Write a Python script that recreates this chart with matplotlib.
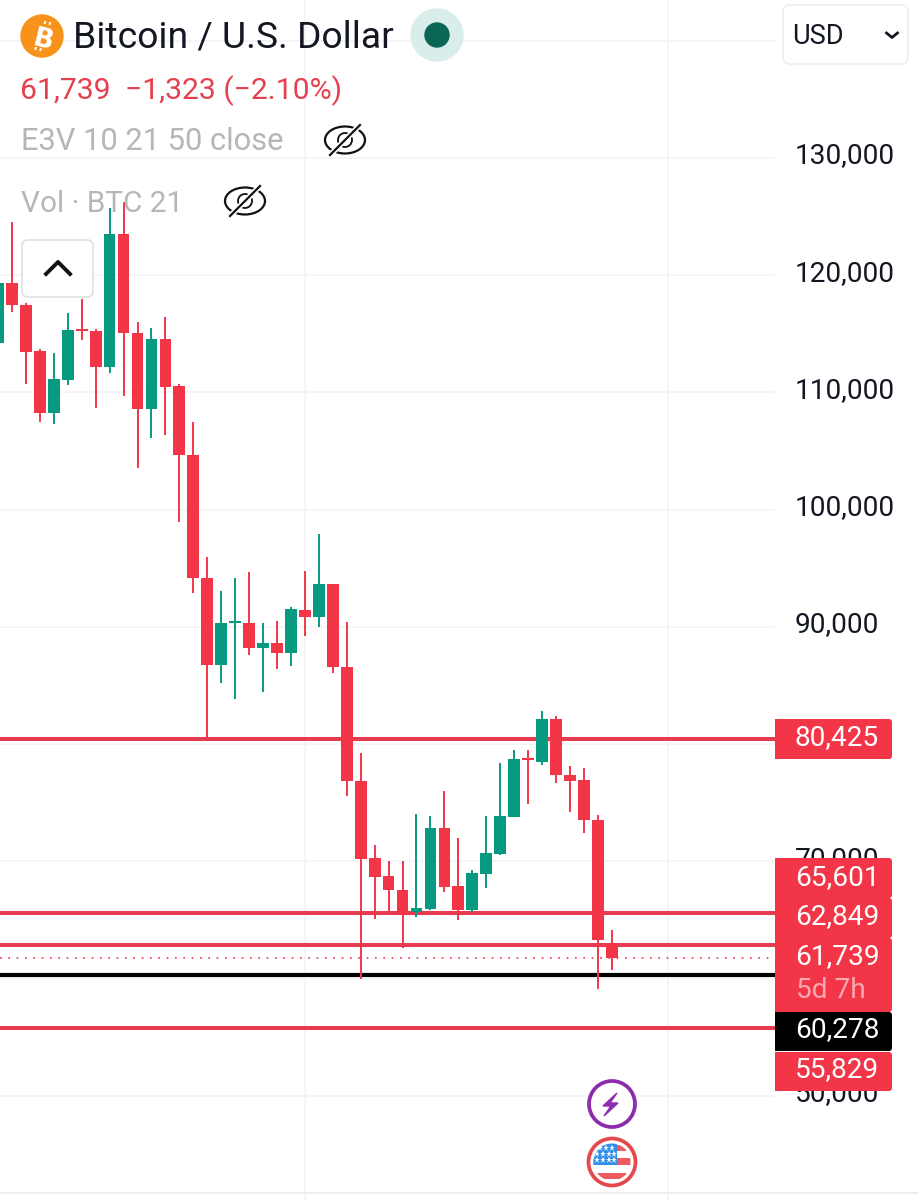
import matplotlib
matplotlib.use("Agg")
import matplotlib.pyplot as plt
from matplotlib.patches import Circle, Ellipse, FancyBboxPatch, Polygon, Rectangle
from matplotlib.transforms import ScaledTranslation

plt.rcParams["font.family"] = ["Roboto", "DejaVu Sans"]

# daily candles
opens = [114220, 119338, 117460, 113537, 108248, 111063, 115413, 115243, 112172, 123517,
         115072, 108589, 114560, 110551, 104665, 94174, 86752, 90335, 90335, 88203,
         88629, 87776, 91444, 90847, 93662, 86582, 76858, 70290, 68754, 67560,
         65683, 65939, 72849, 67901, 65854, 68925, 70631, 73787, 78734, 78478,
         82146, 77369, 76943, 73531, 63062]
highs = [119338, 124540, 117631, 113707, 113366, 116778, 117972, 115413, 125735, 126246,
         116010, 115499, 116437, 110722, 107480, 95965, 93065, 94174, 94685, 90335,
         90506, 91700, 94771, 97927, 93662, 90420, 79246, 71398, 70034, 70034,
         74043, 73872, 76005, 71996, 69266, 73872, 78393, 79502, 79502, 82829,
         82402, 78137, 77967, 73957, 64148]
lows = [114050, 116863, 110722, 107480, 107310, 110636, 114475, 108675, 111660, 109698,
        103557, 106116, 106371, 98950, 92894, 80611, 85217, 83852, 87605, 84449,
        86411, 86667, 89226, 89994, 86070, 75578, 59968, 65086, 65683, 62613,
        65257, 65854, 67389, 65001, 65683, 67731, 70545, 73787, 74896, 78222,
        76687, 74213, 72422, 59115, 60736]
closes = [119338, 117460, 113451, 108248, 111148, 115328, 115243, 112172, 123517, 115072,
          108589, 114560, 110466, 104665, 94174, 86752, 90335, 90420, 88203, 88629,
          87776, 91529, 90847, 93662, 86582, 76858, 70204, 68669, 67560, 65427,
          66025, 72849, 67816, 65854, 69010, 70716, 73872, 78734, 78649, 82146,
          77369, 76858, 73531, 63295, 61739]

yticks = [140000, 130000, 120000, 110000, 100000, 90000, 80000, 70000, 60000, 50000]
ytick_labels = ["", "130,000", "120,000", "110,000", "100,000", "90,000", "", "70,000", "", "50,000"]
red_levels = [80425, 65601, 62849, 55829]
black_level = 60278
last_close = 61739
vgrid_days = [22, 48]

RED = "#F23648"
GREEN = "#089A80"
LINE_RED = "#E63B50"
GRID = "#F3F4F6"

fig = plt.figure(figsize=(9.18, 12), dpi=100)
ax = fig.add_axes([0, 0, 775 / 918, 1])
ax.set_xlim(0.143, 55.7)
ax.set_ylim(41117, 143477)

ax.set_yticks(yticks)
ax.set_yticklabels(ytick_labels, fontsize=20.2, color="#131722")
ax.yaxis.tick_right()
ax.tick_params(axis="y", length=0, pad=14.4)
# labels sit a little above their grid lines
for lab in ax.get_yticklabels():
    lab.set_transform(lab.get_transform() + ScaledTranslation(0, 5 / 100, fig.dpi_scale_trans))
ax.set_xticks(vgrid_days)
ax.tick_params(axis="x", length=0, labelbottom=False)
ax.grid(True, color=GRID, linewidth=1.2)
ax.set_axisbelow(True)
for s in ax.spines.values():
    s.set_visible(False)

# price lines
for lv in red_levels:
    ax.axhline(lv, xmin=0, xmax=0.998, color=LINE_RED, lw=2.9, zorder=2)
ax.axhline(black_level, xmin=0, xmax=0.998, color="black", lw=3, zorder=2)
ax.axhline(last_close, xmin=0, xmax=0.998, color=RED, lw=1.2, ls=(0, (1, 4)), zorder=2)

# candles
days = list(range(len(opens)))
for i in days:
    c = GREEN if closes[i] >= opens[i] else RED
    ax.vlines(i, lows[i], highs[i], color=c, lw=1.4, zorder=3)
    h = max(abs(closes[i] - opens[i]), 130)
    ax.bar(i, h, bottom=min(opens[i], closes[i]), width=0.84, color=c, zorder=4)

# overlay in pixel coordinates for the app's interface
ui = fig.add_axes([0, 0, 1, 1], zorder=5)
ui.set_xlim(0, 918)
ui.set_ylim(1200, 0)
ui.axis("off")
ui.patch.set_alpha(0)

# header
ui.add_patch(Circle((42, 36), 21, color="#F7931A"))
ui.text(43, 36, "B", color="white", fontsize=19, fontweight="bold", rotation=-14,
        ha="center", va="center_baseline", family="DejaVu Sans")
for tx, ty in [(44.5, 24), (49.5, 25), (36, 47), (41, 48)]:
    dx = 0.8 if ty < 36 else -0.8
    dy = -3 if ty < 36 else 3
    ui.plot([tx, tx + dx], [ty, ty + dy], color="white", lw=1.4, solid_capstyle="butt")
ui.text(73, 33.5, "Bitcoin / U.S. Dollar", fontsize=26.8, color="#131722", va="center_baseline")
ui.add_patch(Circle((437, 35), 26, color="#D9EEEA"))
ui.add_patch(Circle((437, 35), 12, color="#0B6655"))
ui.text(20, 87.5, "61,739", fontsize=21.7, color="#E5404F", va="center_baseline")
ui.text(125, 87.5, "\u22121,323 (\u22122.10%)", fontsize=21.7, color="#E5404F", va="center_baseline")
ui.text(21, 139, "E3V 10 21 50 close", fontsize=22.2, color="#B6B6B6", va="center_baseline")
ui.text(21, 200.5, "Vol \u00b7 BTC 21", fontsize=21.4, color="#B6B6B6", va="center_baseline")

# hidden-eye icons
for ex, ey in [(345, 140), (245, 201)]:
    ui.add_patch(Ellipse((ex, ey), 40, 27, fc="none", ec="#111111", lw=1.6))
    ui.add_patch(Circle((ex, ey), 7, fc="none", ec="#111111", lw=1.3))
    ui.plot([ex - 15, ex + 15], [ey + 15, ey - 15], color="white", lw=4)
    ui.plot([ex - 15, ex + 15], [ey + 15, ey - 15], color="#111111", lw=1.6)

# collapse button
ui.add_patch(FancyBboxPatch((24, 242), 67, 53, boxstyle="round,pad=2,rounding_size=6",
                            fc="white", ec="#E0E0E0", lw=1.2))
ui.plot([46, 58, 70], [274, 262, 274], color="#111111", lw=2.8)

# currency dropdown
ui.add_patch(FancyBboxPatch((785, 7), 121, 55, boxstyle="round,pad=2,rounding_size=7",
                            fc="white", ec="#EDEDED", lw=1.2))
ui.text(792, 34, "USD", fontsize=19.5, color="#131722", va="center_baseline")
ui.plot([886.5, 892, 897.5], [33, 37.5, 33], color="#131722", lw=2)

# price tags, stacked as the app stacks them
tags = [(719, 40, RED, "80,425", 734.5), (858, 40, RED, "65,601", 874.5), (898, 40, RED, "62,849", 913.5),
        (938, 74, RED, "61,739", 953.5), (1012, 39, "black", "60,278", 1026.5), (1052, 39, RED, "55,829", 1066.5)]
for top, hgt, col, label, ty in tags:
    ui.add_patch(FancyBboxPatch((778, top + 3), 111, hgt - 6, boxstyle="round,pad=3,rounding_size=3",
                                color=col, lw=0))
    ui.add_patch(Rectangle((775, top), 60, hgt, color=col, lw=0))
    ui.text(795, ty, label, fontsize=20.2, color="white", va="center_baseline")
ui.text(796, 987.5, "5d 7h", fontsize=20.2, color="#F9A8B2", va="center_baseline")

# event icons
ui.add_patch(Circle((612, 1104), 23, fc="white", ec="#8E2CB0", lw=2.7))
ui.add_patch(Polygon([(617, 1093), (603, 1106), (611, 1106), (604, 1116), (618, 1103), (610, 1103)],
                     color="#8E2CB0"))

ui.add_patch(Circle((612, 1162), 23.5, fc="white", ec="#E5484D", lw=2.7))
clip = Circle((612, 1162), 18.5, transform=ui.transData)
for y0, hh in [(1145, 6), (1158, 7), (1173, 6)]:
    ui.add_patch(Rectangle((590, y0), 44, hh, color="#EE5A5F", lw=0, clip_path=clip))
ui.add_patch(Rectangle((590, 1143), 27, 22, color="#2F8FEA", lw=0, clip_path=clip))
for sy, xs in [(1148, [600, 606, 612]), (1154, [597, 603, 609, 614]), (1160, [597, 603, 609, 614])]:
    for sx in xs:
        ui.plot(sx, sy, marker="*", ms=4.5, color="white", mew=0)

# bottom border of the chart
ui.plot([0, 918], [1193, 1193], color="#EEEEEE", lw=1.4)

fig.savefig("out.png", dpi=100)
